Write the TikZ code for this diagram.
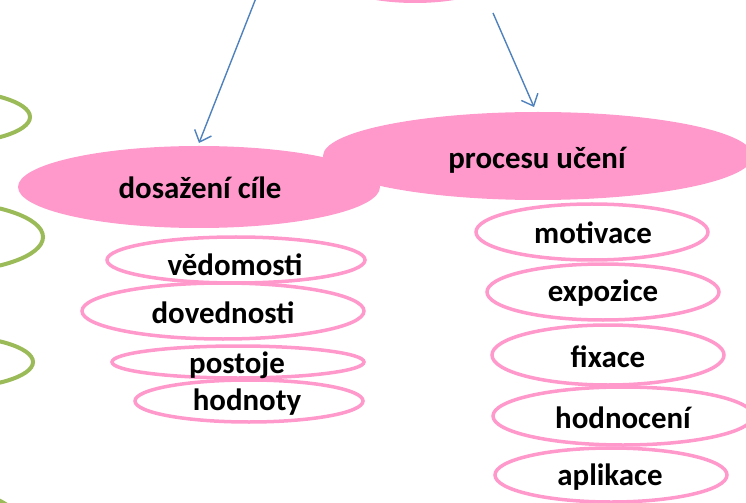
\documentclass[tikz,border=0pt]{standalone}
\usepackage{fontspec}
\setmainfont{Carlito}
\usetikzlibrary{shapes.geometric,arrows.meta}
\definecolor{pinkfill}{HTML}{FF99CC}
\definecolor{leafgreen}{HTML}{9BBB59}
\definecolor{arrowblue}{HTML}{4F81BD}
\tikzset{
  bigoval/.style={ellipse, fill=pinkfill, draw=none, inner sep=0pt},
  smalloval/.style={ellipse, draw=pinkfill, line width=3.5bp, inner sep=0pt},
  greenoval/.style={ellipse, draw=leafgreen, line width=4bp, inner sep=0pt},
  lbl/.style={font=\fontsize{31pt}{36pt}\selectfont\bfseries, inner sep=0pt, text=black},
  conn/.style={draw=arrowblue, line width=1.4bp, -{Straight Barb[length=10bp,width=18bp,line width=1.4bp]}}
}
\begin{document}
\begin{tikzpicture}[x=1bp,y=-1bp]
\useasboundingbox (0,0) rectangle (746,503);
\clip (0,0) rectangle (746,503);
% green ovals on the left edge
\node[greenoval, minimum width=180bp, minimum height=54bp] (g1) at (-60,117) {};
\node[greenoval, minimum width=206bp, minimum height=70bp] (g2) at (-60,237) {};
\node[greenoval, minimum width=186bp, minimum height=54bp] (g3) at (-60,362) {};
\node[greenoval, minimum width=180bp, minimum height=90bp] (g4) at (-65,532) {};
% top oval (cut off)
\node[bigoval, minimum width=180bp, minimum height=60bp] (top) at (415,-27) {};
% big ovals
\node[bigoval, minimum width=430bp, minimum height=88bp] (proc) at (538,156) {};
\node[bigoval, minimum width=362bp, minimum height=82bp] (dos) at (199,187) {};
\node[lbl] (proct) at (537,160) {procesu učení};
\node[lbl] (dost) at (200,188) {dosažení cíle};
% arrows
\coordinate (a1s) at (256,-2);
\coordinate (a1e) at (199,143);
\coordinate (a2s) at (493,13);
\coordinate (a2e) at (534,107);
\draw[conn] (a1s) -- (a1e);
\draw[conn] (a2s) -- (a2e);
% left small ovals
\node[smalloval, minimum width=258bp, minimum height=46bp] (o1) at (236,260) {};
\node[smalloval, minimum width=282bp, minimum height=56bp] (o2) at (223,311) {};
\node[smalloval, minimum width=252bp, minimum height=32bp] (o3) at (238,362) {};
\node[smalloval, minimum width=228bp, minimum height=42bp] (o4) at (249,401) {};
\node[lbl] at (235,265) {vědomosti};
\node[lbl] at (223,313) {dovednosti};
\node[lbl] at (237,365) {postoje};
\node[lbl] at (247,402) {hodnoty};
% right small ovals
\node[smalloval, minimum width=232bp, minimum height=56bp] (r1) at (592,232) {};
\node[smalloval, minimum width=232bp, minimum height=56bp] (r2) at (603,292) {};
\node[smalloval, minimum width=232bp, minimum height=60bp] (r3) at (608,355) {};
\node[smalloval, minimum width=260bp, minimum height=58bp] (r4) at (623,416) {};
\node[smalloval, minimum width=232bp, minimum height=54bp] (r5) at (611,475) {};
\node[lbl] at (593,233) {motivace};
\node[lbl] at (603,293) {expozice};
\node[lbl] at (608,357) {fixace};
\node[lbl] at (623,418) {hodnocení};
\node[lbl] at (610,477) {aplikace};
\end{tikzpicture}
\end{document}
